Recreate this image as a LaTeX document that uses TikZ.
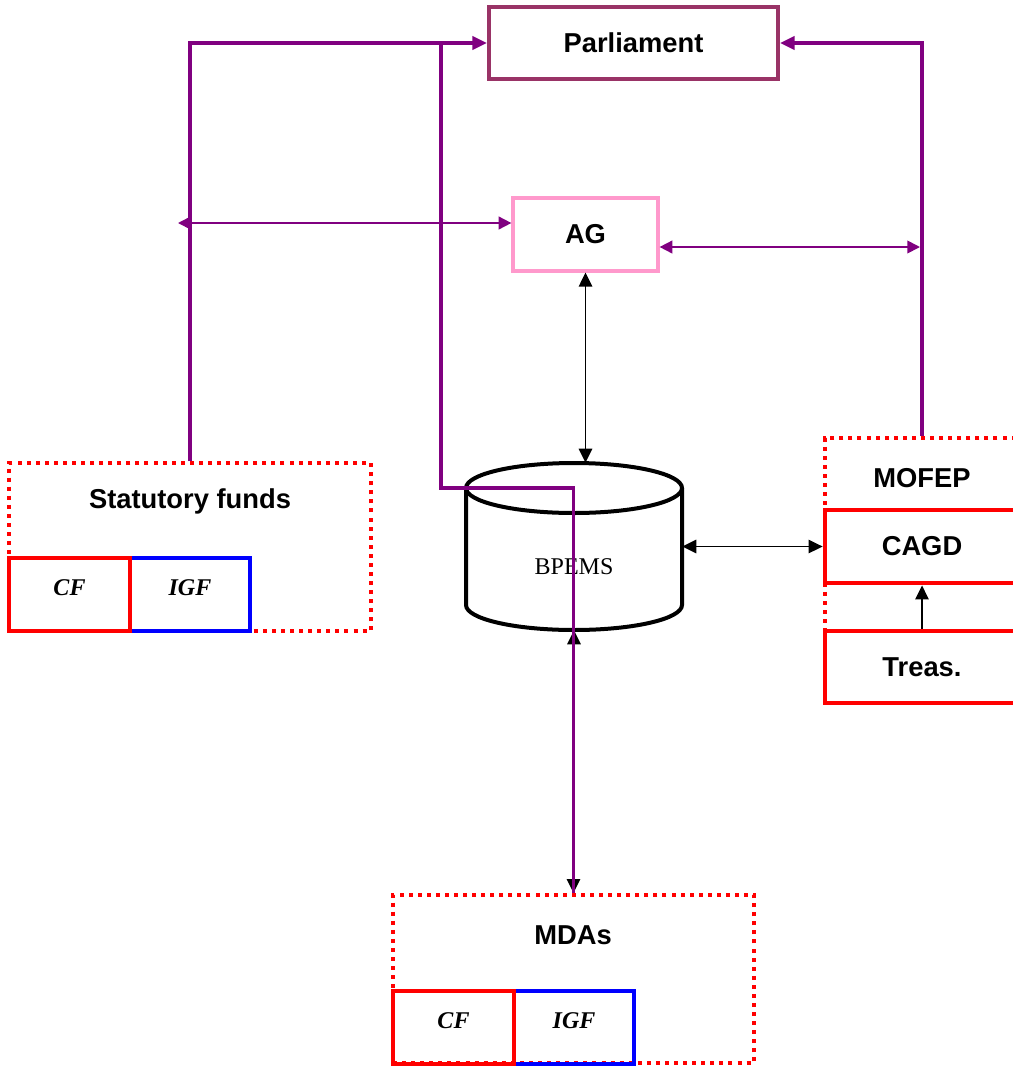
\documentclass[tikz,border=0pt]{standalone}
\usepackage{fontspec}
\setmainfont{Liberation Serif}
\newfontfamily\boxfont{Liberation Sans}
\usetikzlibrary{arrows.meta,fit}
\definecolor{flow}{HTML}{800080}
\definecolor{parlred}{HTML}{993366}
\definecolor{agpink}{HTML}{FF99CC}
\tikzset{
    box/.style={draw, inner sep=0pt, line width=3.6pt},
    dotbox/.style={draw=red, inner sep=0pt, line width=3pt, dash pattern=on 3pt off 3.8pt},
    plbl/.style={font=\boxfont\bfseries\fontsize{20.5}{24}\selectfont},
    flbl/.style={font=\bfseries\itshape\fontsize{18}{22}\selectfont, yshift=5pt},
    flowline/.style={draw=flow, line width=2.4pt},
    thinflow/.style={draw=flow, line width=1.3pt, {Triangle[length=9.5pt,width=9.5pt]}-{Triangle[length=9.5pt,width=9.5pt]}},
    link/.style={draw=black, line width=1.4pt},
    >={Triangle[length=10.5pt,width=10pt]}
}
\begin{document}
\begin{tikzpicture}[x=0.75pt,y=-0.75pt]
    \clip (0,0) rectangle (1013,1068);
    % top boxes
    \node[box, draw=parlred, line width=3pt, fit={(489,7) (778,79)}, label={[plbl]center:Parliament}] (parl) {};
    \node[box, draw=agpink, line width=2.4pt, fit={(513,198) (658,271)}, label={[plbl]center:AG}] (ag) {};
    % fund groups
    \node[dotbox, fit={(9,463) (371,631)}] (sf) {};
    \node[plbl] (sflbl) at (190,501) {Statutory funds};
    \node[dotbox, fit={(393,895) (754,1063)}] (mda) {};
    \node[plbl] (mdalbl) at (573,935) {MDAs};
    \foreach \x/\y/\n in {9/558/sf, 393/991/mda}
    {
        \node[box, draw=blue, fit={(\x+121,\y) (\x+241,\y+73)}, label={[flbl]center:IGF}] (\n-igf) {};
        \node[box, draw=red, fit={(\x,\y) (\x+121,\y+73)}, label={[flbl]center:CF}] (\n-cf) {};
    }
    % ministry
    \node[dotbox, fit={(825,438) (1019,703)}] (mofep) {};
    \node[plbl] (mofeplbl) at (922,478) {MOFEP};
    \node[box, draw=red, fit={(825,510) (1019,583)}, label={[plbl]center:CAGD}] (cagd) {};
    \node[box, draw=red, fit={(825,631) (1019,703)}, label={[plbl]center:Treas.}] (treas) {};
    % database
    \node[inner sep=0pt, fit={(466,463) (682,630)}] (db) {};
    \draw[line width=3pt] (466,488) -- (466,605) arc[start angle=180, end angle=0, x radius=108, y radius=25] -- (682,488);
    \draw[line width=3pt] (574,488) ellipse[x radius=108, y radius=25];
    \node[font=\fontsize{18}{22}\selectfont] (dblbl) at (574,567) {BPEMS};
    % links
    \draw[link, <->] (ag.south) -- (ag.south |- db.north);
    \draw[link, <->] (db.east) -- (db.east -| cagd.west);
    \draw[link, ->] (treas.north) -- (cagd.south);
    \draw[link, <->] (db.south) -- (mda.north);
    \coordinate (sfl) at (178,223);
    \coordinate (mfl) at (920,247);
    \draw[thinflow] (sfl) -- (sfl -| ag.west);
    \draw[thinflow] (mfl -| ag.east) -- (mfl);
    % reporting lines
    \coordinate (jog) at (441,488);
    \draw[flowline] (mda.north) |- (jog) -- (jog |- parl.west);
    \draw[flowline, -{Triangle[length=11pt,width=10pt]}] (sf.north) |- (parl.west);
    \draw[flowline, -{Triangle[length=11pt,width=10pt]}] (mofep.north) |- (parl.east);
\end{tikzpicture}
\end{document}
